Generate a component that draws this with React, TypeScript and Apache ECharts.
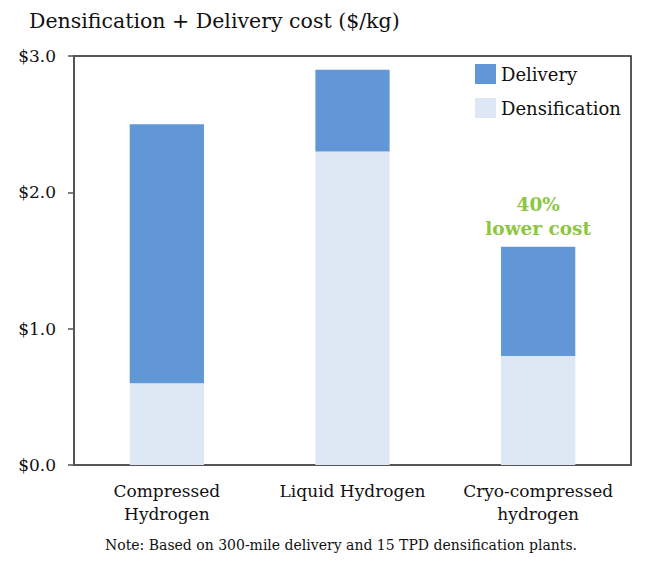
import React, { useEffect, useRef } from "react";
import * as echarts from "echarts";

const categories = ["Compressed\nHydrogen", "Liquid Hydrogen", "Cryo-compressed\nhydrogen"];
const densification = [0.6, 2.3, 0.8];
const delivery = [1.9, 0.6, 0.8];
const yTicks = [0, 1, 2, 3];
const annotation = "40%\nlower cost";
const annotatedIndex = 2;
const titleText = "Densification + Delivery cost ($/kg)";
const noteText = "Note: Based on 300-mile delivery and 15 TPD densification plants.";

const FONT = "'DejaVu Serif', Georgia, serif";

export default function App() {
  const ref = useRef<HTMLDivElement>(null);
  useEffect(() => {
    if (!ref.current) return;
    const chart = echarts.init(ref.current, null, { renderer: "svg" });
    chart.setOption({
      animation: false,
      backgroundColor: "#ffffff",
      textStyle: { fontFamily: FONT },
      title: {
        text: titleText,
        left: 24,
        top: 5,
        textStyle: { fontFamily: FONT, fontSize: 20.5, fontWeight: "normal", color: "#111" },
      },
      legend: {
        data: ["Delivery", "Densification"],
        orient: "vertical",
        left: 470,
        top: 59,
        itemWidth: 21,
        itemHeight: 20,
        itemGap: 14,
        icon: "rect",
        textStyle: { fontFamily: FONT, fontSize: 18, color: "#111" },
      },
      grid: {
        left: 74,
        right: 19,
        top: 56,
        bottom: 108,
        show: true,
        borderColor: "#222",
        borderWidth: 1.5,
        containLabel: false,
      },
      xAxis: {
        type: "category",
        data: categories,
        axisLine: { show: true, lineStyle: { color: "#555", width: 2 } },
        axisTick: { show: false },
        axisLabel: {
          fontFamily: FONT,
          fontSize: 17,
          color: "#111",
          lineHeight: 23,
          margin: 14,
          interval: 0,
        },
      },
      yAxis: {
        type: "value",
        min: yTicks[0],
        max: yTicks[yTicks.length - 1],
        interval: 1,
        splitLine: { show: false },
        axisLine: { show: true, lineStyle: { color: "#555", width: 2 } },
        axisTick: { show: true, length: 6, lineStyle: { color: "#555", width: 1.5 } },
        axisLabel: {
          fontFamily: FONT,
          fontSize: 17,
          color: "#111",
          margin: 18,
          formatter: (v: number) => "$" + v.toFixed(1),
        },
      },
      series: [
        {
          name: "Densification",
          type: "bar",
          stack: "total",
          barWidth: "40%",
          itemStyle: { color: "#DEE8F5" },
          data: densification,
        },
        {
          name: "Delivery",
          type: "bar",
          stack: "total",
          barWidth: "40%",
          itemStyle: { color: "#6197D7" },
          data: delivery.map((v, i) =>
            i === annotatedIndex
              ? {
                  value: v,
                  label: {
                    show: true,
                    position: "top",
                    distance: 6,
                    formatter: annotation,
                    fontFamily: FONT,
                    fontSize: 18.5,
                    fontWeight: "bold",
                    lineHeight: 24,
                    color: "#8DC640",
                    align: "center",
                  },
                }
              : v
          ),
        },
      ],
      graphic: [
        {
          type: "text",
          left: 105,
          top: 538,
          style: {
            text: noteText,
            fontFamily: FONT,
            fontSize: 14,
            fill: "#111",
          },
        },
      ],
    });
    return () => chart.dispose();
  }, []);
  return <div ref={ref} style={{ width: 650, height: 573, margin: -8 }} />;
}
